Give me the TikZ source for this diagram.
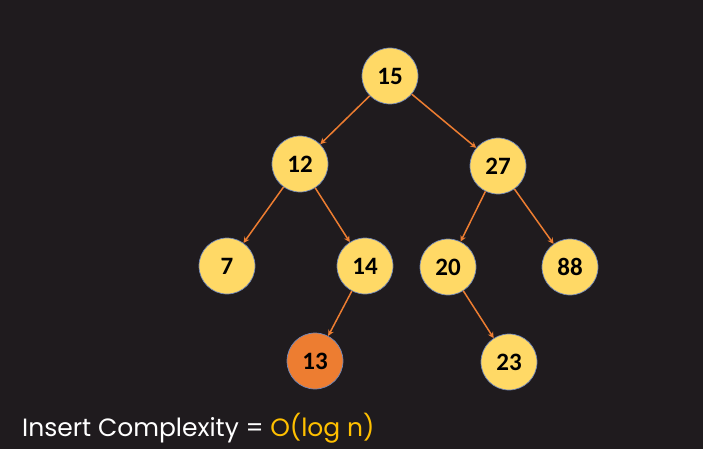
\documentclass[tikz,border=0pt]{standalone}
\usepackage{fontspec}
\setmainfont{Carlito}
\newfontfamily\captionfont{Poppins}
\usetikzlibrary{arrows.meta}
\definecolor{bgdark}{HTML}{1F1B1E}
\definecolor{keyfill}{HTML}{FFD966}
\definecolor{newfill}{HTML}{ED7D31}
\definecolor{ringblue}{HTML}{6F86B8}
\definecolor{edgeorange}{HTML}{ED7D31}
\definecolor{bigo}{HTML}{FFC000}

\newcommand\treenode[4]{
    \node[keynode, fill=#4] (#1) at (#2) {#3};
}

\begin{document}
\begin{tikzpicture}[x=1pt, y=-1pt,
    keynode/.style={circle, draw=ringblue, line width=0.7pt, minimum size=56pt,
        inner sep=0pt, font=\bfseries\fontsize{25}{25}\selectfont, text=black},
    treeedge/.style={draw=edgeorange, line width=1.5pt, -{Stealth[length=6pt, width=6pt]}}]
    \fill[bgdark] (0,0) rectangle (703,449);
    \useasboundingbox (0,0) rectangle (703,449);

    \treenode{n15}{390,76}{15}{keyfill}

    \treenode{n12}{300,164}{12}{keyfill}
    \treenode{n27}{498,166}{27}{keyfill}

    \treenode{n7}{227,266}{7}{keyfill}
    \treenode{n14}{365,266}{14}{keyfill}
    \treenode{n20}{448,267}{20}{keyfill}
    \treenode{n88}{570,267}{88}{keyfill}

    \treenode{n13}{315,361}{13}{newfill}
    \treenode{n23}{509,362}{23}{keyfill}

    \draw[treeedge] (n15) -- (n12);
    \draw[treeedge] (n15) -- (n27);
    \draw[treeedge] (n12) -- (n7);
    \draw[treeedge] (n12) -- (n14);
    \draw[treeedge] (n27) -- (n20);
    \draw[treeedge] (n27) -- (n88);
    \draw[treeedge] (n14) -- (n13);
    \draw[treeedge] (n20) -- (n23);

    \node[anchor=base west, inner sep=0pt, text=white, font=\captionfont\fontsize{25}{25}\selectfont]
        (caption) at (22,436) {Insert Complexity = \textcolor{bigo}{O(log n)}};
\end{tikzpicture}
\end{document}
